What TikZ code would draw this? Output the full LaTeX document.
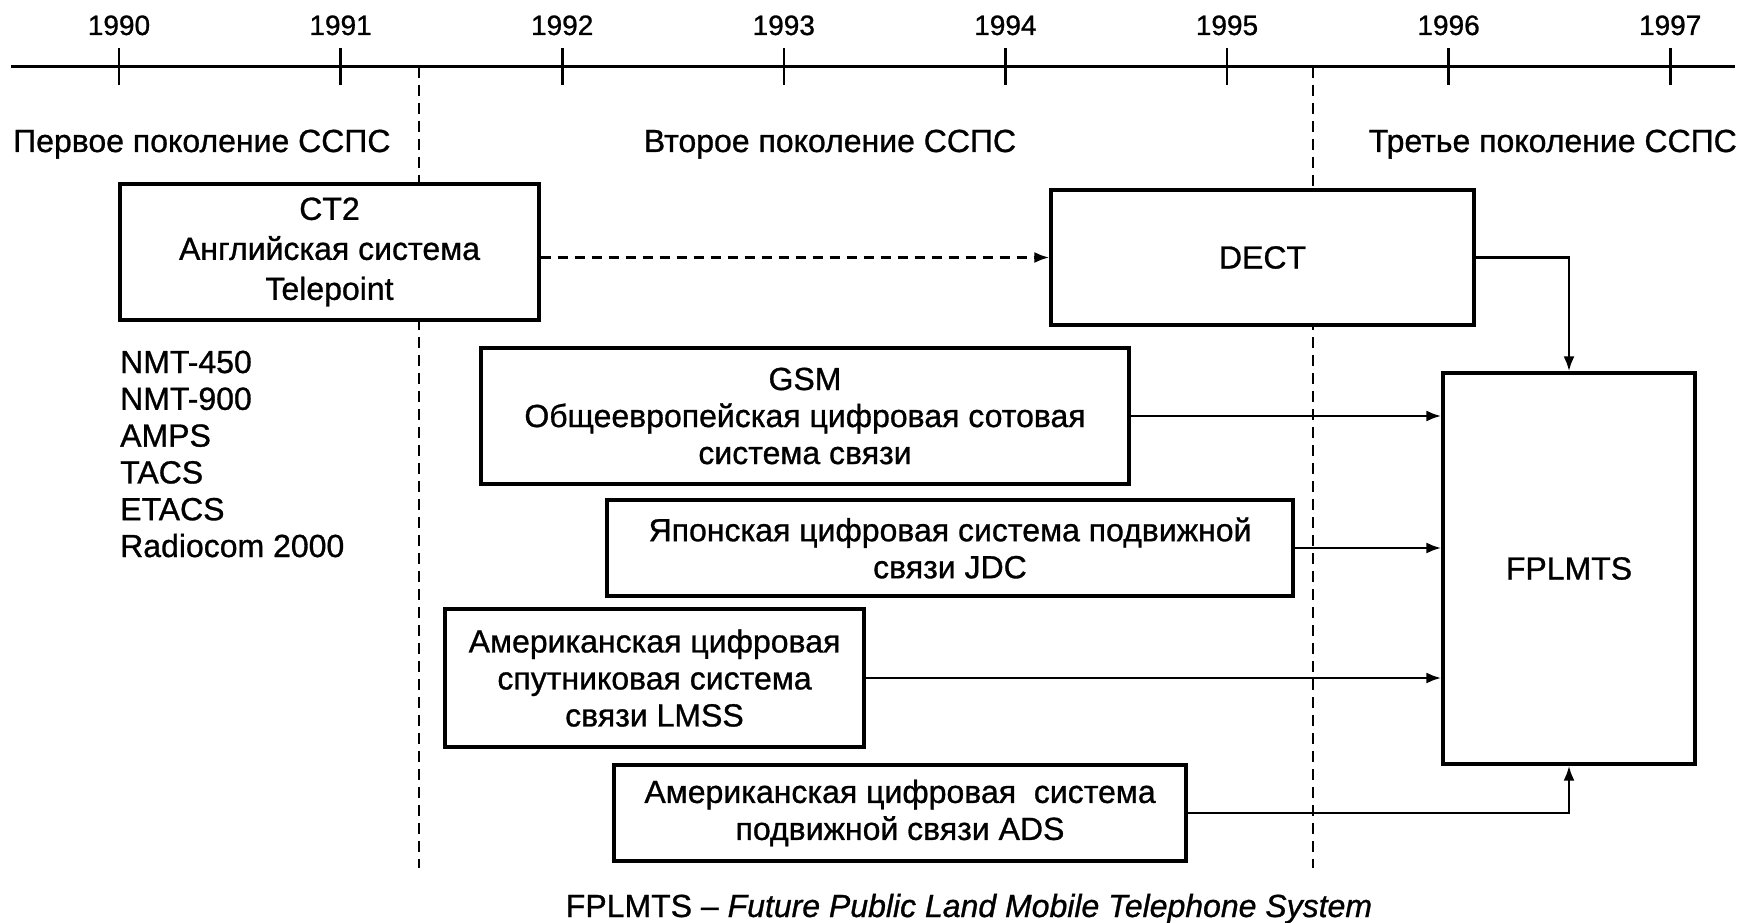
\documentclass[tikz,border=0pt]{standalone}
\usepackage{fontspec}
\setmainfont{Liberation Sans}[FakeBold=0.9]
\usetikzlibrary{arrows.meta}
\begin{document}
\begin{tikzpicture}[x=1pt,y=-1pt,
  plain/.style={inner sep=0pt, font=\fontsize{32}{37}\selectfont},
  yearlbl/.style={inner sep=0pt, anchor=base, font=\fontsize{28}{32}\selectfont},
  sysbox/.style={draw, fill=white, line width=3.2pt, align=center, inner sep=0pt,
                 font=\fontsize{32}{37}\selectfont},
  axisline/.style={line width=3pt},
  tick/.style={line width=2.6pt},
  eraline/.style={line width=2pt, dash pattern=on 11pt off 7pt},
  link/.style={line width=2.8pt, -{Latex[length=15pt,width=11pt]}},
  dlink/.style={line width=2.8pt, dash pattern=on 10pt off 7pt, -{Latex[length=15pt,width=11pt]}},
]
\useasboundingbox (0,0) rectangle (1746,923);
\fill[white] (0,0) rectangle (1746,923);

% time axis with yearly ticks
\coordinate (axL) at (11,67);
\coordinate (axR) at (1735,67);
\draw[axisline] (axL) -- (axR);
\foreach \yr [count=\i from 0] in {1990,...,1997}{
  \pgfmathsetmacro{\xx}{119+221.6*\i}
  \coordinate (t\yr) at (\xx,67);
  \draw[tick] (\xx,48) -- (\xx,85);
  \node[yearlbl] (y\yr) at (\xx,35) {\yr};
}

% boundaries between generations
\coordinate (g1t) at (419,67);
\coordinate (g1b) at (419,868);
\coordinate (g2t) at (1313,67);
\coordinate (g2b) at (1313,868);
\draw[eraline] (g1t) -- (g1b);
\draw[eraline] (g2t) -- (g2b);

% generation headings
\node[plain, anchor=base west] (era1) at (13,152) {Первое поколение ССПС};
\node[plain, anchor=base] (era2) at (830,152) {Второе поколение ССПС};
\node[plain, anchor=base east] (era3) at (1737,152) {Третье поколение ССПС};

% systems
\node[sysbox, minimum width=419pt, minimum height=136pt, font=\fontsize{32}{40}\selectfont]
  (ct2) at (329.5,252) {CT2\\Английская система\\Telepoint};
\node[sysbox, minimum width=423pt, minimum height=135pt] (dect) at (1262.5,257.5) {DECT};
\node[sysbox, minimum width=648pt, minimum height=136pt]
  (gsm) at (805,416) {GSM\\Общеевропейская цифровая сотовая\\система связи};
\node[sysbox, minimum width=686pt, minimum height=96pt]
  (jdc) at (950,548) {Японская цифровая система подвижной\\связи JDC};
\node[sysbox, minimum width=419pt, minimum height=138pt]
  (lmss) at (654.5,678) {Американская цифровая\\спутниковая система\\связи LMSS};
\node[sysbox, minimum width=572pt, minimum height=96pt]
  (ads) at (900,813) {Американская цифровая\ \ система\\подвижной связи ADS};
\node[sysbox, minimum width=252pt, minimum height=391pt] (fpl) at (1569,568.5) {FPLMTS};

% first-generation analogue systems
\node[plain, anchor=west, align=left, font=\fontsize{32}{36.8}\selectfont]
  (analog) at (120,454) {NMT-450\\NMT-900\\AMPS\\TACS\\ETACS\\Radiocom 2000};

% connections
\draw[dlink] (ct2.east |- dect.west) -- (dect.west);
\draw[link] (dect.east) -| (fpl.north);
\draw[link] (gsm.east) -- (gsm.east -| fpl.west);
\draw[link] (jdc.east) -- (jdc.east -| fpl.west);
\draw[link] (lmss.east) -- (lmss.east -| fpl.west);
\draw[link] (ads.east) -| (fpl.south);

% footnote
\node[plain, anchor=base] (note) at (969,917)
  {FPLMTS – \textit{Future Public Land Mobile Telephone System}};
\end{tikzpicture}
\end{document}
